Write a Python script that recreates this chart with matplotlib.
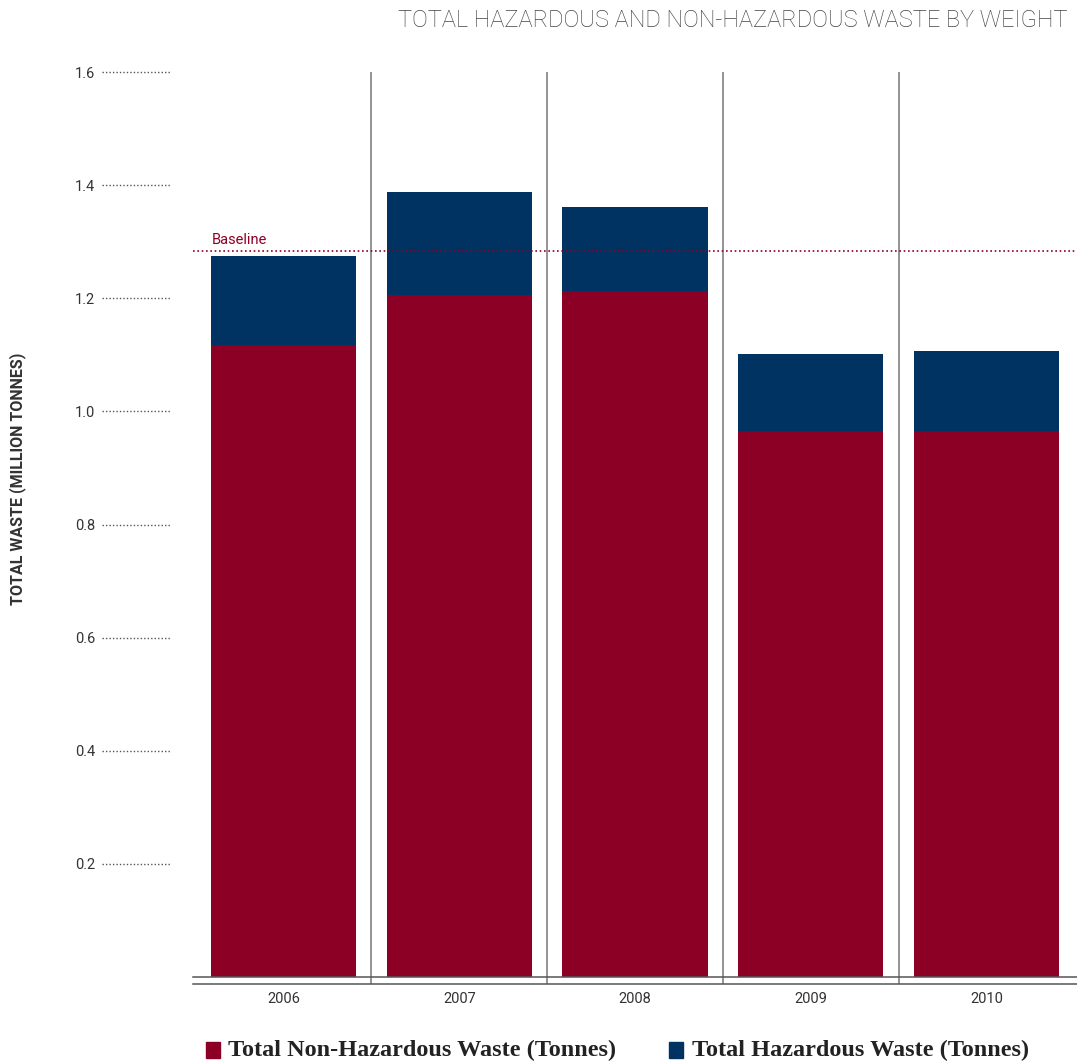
import matplotlib
matplotlib.use("Agg")
import matplotlib.pyplot as plt
from matplotlib.transforms import blended_transform_factory
from matplotlib.patches import Rectangle

years = ["2006", "2007", "2008", "2009", "2010"]
non_hazardous = [1.117, 1.205, 1.212, 0.965, 0.965]
hazardous = [0.157, 0.183, 0.149, 0.136, 0.141]
baseline = 1.283
y_ticks = [0.2, 0.4, 0.6, 0.8, 1.0, 1.2, 1.4, 1.6]

RED = "#8C0026"
BLUE = "#003262"

fig = plt.figure(figsize=(10.77, 10.63), dpi=100)
ax = fig.add_axes([193 / 1077, 86 / 1063, 884 / 1077, 905 / 1063])

x = list(range(len(years)))
ax.bar(x, non_hazardous, width=0.826, color=RED, zorder=2)
ax.bar(x, hazardous, width=0.826, bottom=non_hazardous, color=BLUE, zorder=2)

ax.set_xlim(-0.515, 4.515)
ax.set_ylim(0, 1.6)

for s in ["top", "right", "left"]:
    ax.spines[s].set_visible(False)
ax.spines["bottom"].set_color("#555555")
ax.spines["bottom"].set_linewidth(1.1)

# second rule under the axis
ax.plot([-0.515, 4.515], [-0.0115, -0.0115], color="#555555", lw=1.1,
        clip_on=False, zorder=3)

# vertical separators between years
for xs in [0.5, 1.5, 2.5, 3.5]:
    ax.plot([xs, xs], [-0.0115, 1.6], color="#8a8a8a", lw=1.3, clip_on=False,
            zorder=1, solid_capstyle="butt")

# baseline
ax.axhline(baseline, color=RED, lw=1.2, ls=(0, (1, 1.6)), zorder=3)
ax.text(-0.41, baseline + 0.008, "Baseline", color=RED, fontsize=10.5,
        fontfamily="Roboto", ha="left", va="bottom")

# y ticks with dotted leaders
ax.set_yticks(y_ticks)
ax.set_yticklabels([f"{v:.1f}" for v in y_ticks], fontsize=10.5,
                   fontfamily="Roboto", color="#333333")
ax.tick_params(axis="y", length=0, pad=70.5)
tr = blended_transform_factory(ax.transAxes, ax.transData)
for v in y_ticks:
    ax.plot([-0.103, -0.026], [v, v], transform=tr, color="#555555", lw=1.0,
            ls=(0, (1, 1.5)), clip_on=False)

ax.set_xticks(x)
ax.set_xticklabels(years, fontsize=10.5, fontfamily="Roboto", color="#333333")
ax.tick_params(axis="x", length=0, pad=10.5)

fig.text(18 / 1077, 1 - 479 / 1063, "TOTAL WASTE (MILLION TONNES)", rotation=90,
         ha="center", va="center", fontsize=11.5, fontweight="bold",
         fontfamily="Roboto", color="#333333")

fig.text(1068 / 1077, 1 - 20 / 1063,
         "TOTAL HAZARDOUS AND NON-HAZARDOUS WASTE BY WEIGHT",
         ha="right", va="center", fontsize=17, fontfamily="Roboto",
         fontweight="light", color="#444444")

# legend
ly = 1 - 1050 / 1063
fig.patches.append(Rectangle((206 / 1077, 1 - 1058 / 1063), 14 / 1077, 16 / 1063,
                             transform=fig.transFigure, color=RED))
fig.text(228 / 1077, ly, "Total Non-Hazardous Waste (Tonnes)", ha="left",
         va="center", fontsize=17.5, fontweight="bold",
         fontfamily="Liberation Serif", color="#222222")
fig.patches.append(Rectangle((669 / 1077, 1 - 1058 / 1063), 14 / 1077, 16 / 1063,
                             transform=fig.transFigure, color=BLUE))
fig.text(692 / 1077, ly, "Total Hazardous Waste (Tonnes)", ha="left",
         va="center", fontsize=17.5, fontweight="bold",
         fontfamily="Liberation Serif", color="#222222")

fig.savefig("out.png", dpi=100)
